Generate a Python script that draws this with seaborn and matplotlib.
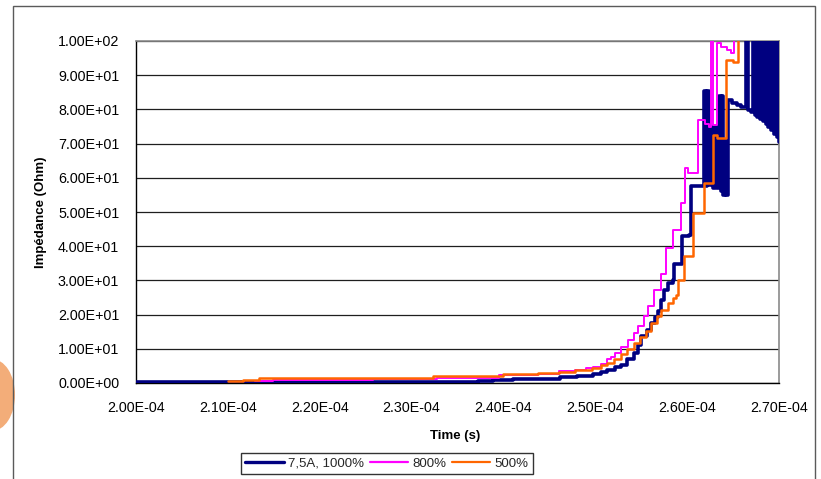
import matplotlib
matplotlib.use("Agg")
import matplotlib.pyplot as plt
from matplotlib.ticker import FuncFormatter, FixedLocator
from matplotlib.lines import Line2D
from matplotlib.patches import Rectangle, Ellipse
import pandas as pd
import seaborn as sns

# ---------------- data (time in microseconds, impedance in Ohm) ----------------
series_names = ["7,5A, 1000%", "800%", "500%"]
series_colors = ["#000080", "#FF00FF", "#FF6600"]

x_tick_values = [2.00e-4, 2.10e-4, 2.20e-4, 2.30e-4, 2.40e-4, 2.50e-4, 2.60e-4, 2.70e-4]
y_tick_values = [0, 10, 20, 30, 40, 50, 60, 70, 80, 90, 100]

navy_t_us = [200.0, 237.2, 238.9, 241.0, 246.2, 248.0, 249.8, 250.6, 251.3, 252.1,
             252.8, 253.5, 254.2, 254.6, 255.0, 255.6, 256.1, 256.5, 256.8, 257.2,
             257.5, 257.9, 258.45, 258.56, 259.4, 260.2, 260.41,
             261.83, 262.0, 262.15, 262.35, 262.6, 262.8, 263.0, 263.2, 263.45,
             263.65, 263.8, 263.95, 264.12, 264.28, 264.45, 264.9, 265.4, 265.9,
             266.41, 266.62, 267.0,
             267.2, 267.35, 267.5, 267.65, 267.8, 267.95, 268.1, 268.25, 268.4,
             268.55, 268.7, 268.85, 269.0, 269.15, 269.3, 269.45, 269.6, 269.75,
             269.9, 270.0]
navy_ohm = [0.2, 0.5, 1.0, 1.2, 1.7, 2.1, 2.7, 3.3, 3.8, 4.6,
            5.4, 7.0, 8.8, 11.0, 13.6, 15.5, 17.5, 19.3, 21.0, 24.3,
            27.3, 29.2, 30.2, 34.8, 42.9, 43.4, 57.5,
            85.5, 57.5, 85.5, 58.0, 75.0, 57.0, 75.0, 57.0, 84.0,
            56.0, 84.0, 55.0, 71.0, 55.0, 82.7, 82.0, 81.3, 80.7,
            101.0, 79.8, 79.2,
            101.0, 78.5, 101.0, 77.9, 101.0, 77.3, 101.0, 76.6, 101.0,
            75.8, 101.0, 75.0, 101.0, 74.0, 101.0, 72.9, 101.0, 71.8,
            101.0, 70.5]

magenta_t_us = [213.0, 214.9, 225.85, 232.8, 239.5, 243.8, 246.0, 247.8, 249.0, 249.8,
                250.6, 251.3, 251.7, 252.1, 252.78, 253.54, 254.2, 254.63, 255.3, 255.72,
                256.38, 257.14, 257.69, 258.45, 259.32, 259.76, 260.09, 261.18, 261.9,
                262.4, 262.6, 262.85, 263.2, 263.7, 264.3, 264.8, 265.1]
magenta_ohm = [0.5, 0.8, 1.2, 1.5, 2.3, 2.7, 3.4, 3.9, 4.4, 4.8,
               5.6, 7.0, 7.6, 8.8, 10.5, 12.7, 14.5, 16.6, 19.5, 22.4,
               27.3, 32.0, 39.5, 44.8, 52.6, 62.9, 61.4, 77.0, 75.8,
               74.8, 105.0, 75.5, 99.3, 98.2, 97.3, 96.6, 105.0]

orange_t_us = [210.0, 211.6, 213.4, 222.6, 232.3, 240.0, 243.8, 246.0, 247.8, 249.6,
               250.6, 251.3, 252.0, 252.8, 253.5, 254.2, 254.9, 255.5, 256.05, 256.7,
               257.1, 257.9, 258.45, 258.8, 259.0, 259.65, 260.63, 261.83, 262.81,
               263.3, 264.27, 265.0, 265.54]
orange_ohm = [0.6, 0.9, 1.4, 1.6, 2.1, 2.7, 2.9, 3.3, 3.8, 4.5,
              5.3, 5.9, 7.0, 8.5, 10.0, 11.7, 13.5, 15.1, 17.5, 19.5,
              21.4, 23.4, 24.9, 25.8, 30.2, 37.0, 49.7, 58.5, 72.5,
              71.5, 94.4, 93.9, 105.0]

series_t = [navy_t_us, magenta_t_us, orange_t_us]
series_v = [navy_ohm, magenta_ohm, orange_ohm]
series_lw = [2.6, 1.4, 1.8]

# ---------------- styling ----------------
sns.set_theme(style="white")
plt.rcParams["font.family"] = ["Liberation Sans", "DejaVu Sans"]

W, H = 821, 479
fig = plt.figure(figsize=(W / 100, H / 100), dpi=100)
fig.patch.set_facecolor("white")

# decorative slide elements: outer frame and orange blob at left
fig.add_artist(Ellipse((-8 / W, 1 - 395 / H), 46 / W, 72 / H, transform=fig.transFigure,
                       facecolor="#F2A46A", edgecolor="none", alpha=0.9, zorder=0))
fig.add_artist(Rectangle((13 / W, -0.05), (815 - 13) / W, 1.05 - 6 / H,
                         transform=fig.transFigure, fill=False,
                         edgecolor="#5a5a5a", linewidth=1.0, zorder=1))

L, R, T, B = 136, 779, 41, 383
ax = fig.add_axes([L / W, 1 - B / H, (R - L) / W, (B - T) / H])
ax.set_facecolor("white")

for name, color, ts, vs, lw in zip(series_names, series_colors, series_t, series_v, series_lw):
    df = pd.DataFrame({"Time (s)": [t * 1e-6 for t in ts], "Impedance": vs})
    sns.lineplot(data=df, x="Time (s)", y="Impedance", ax=ax, color=color,
                 linewidth=lw, estimator=None, sort=False, drawstyle="steps-post",
                 legend=False, zorder=3)

ax.set_xlim(2.0e-4, 2.7e-4)
ax.set_ylim(0, 100)
ax.xaxis.set_major_locator(FixedLocator(x_tick_values))
ax.yaxis.set_major_locator(FixedLocator(y_tick_values))
ax.xaxis.set_major_formatter(FuncFormatter(lambda v, p: f"{v:.2E}"))
ax.yaxis.set_major_formatter(FuncFormatter(lambda v, p: f"{v:.2E}"))

ax.yaxis.grid(True, color="#1e1e1e", linewidth=0.9, zorder=1)
ax.xaxis.grid(False)
ax.set_axisbelow(True)

for side in ["left", "bottom"]:
    ax.spines[side].set_color("black")
    ax.spines[side].set_linewidth(1.0)
for side in ["top", "right"]:
    ax.spines[side].set_color("#8a8a8a")
    ax.spines[side].set_linewidth(1.2)

ax.tick_params(axis="both", which="major", direction="out", length=4, width=0.9,
               color="black", labelsize=10.3, labelcolor="black")
ax.tick_params(axis="y", pad=8)
ax.tick_params(axis="x", pad=9)

ax.set_xlabel("Time (s)", fontsize=9.5, fontweight="bold", color="black")
ax.set_ylabel("Impédance (Ohm)", fontsize=9.5, fontweight="bold", color="black")
ax.xaxis.set_label_coords((455 - L) / (R - L), -(436 - B) / (B - T))
ax.xaxis.label.set_va("center")
ax.yaxis.set_label_coords(-(L - 41) / (R - L), 0.5)
ax.yaxis.label.set_va("center")

handles = [Line2D([0], [0], color=c, linewidth=lw) for c, lw in zip(series_colors, [2.4, 1.6, 1.6])]
leg = ax.legend(handles, series_names, ncol=3, loc="center",
                bbox_to_anchor=(387 / W, 1 - 463.5 / H), bbox_transform=fig.transFigure,
                frameon=True, fancybox=False, edgecolor="#333333", framealpha=1,
                fontsize=9.5, handlelength=2.9, handletextpad=0.35, columnspacing=0.4,
                borderpad=0.35, borderaxespad=0)
leg.get_frame().set_linewidth(1.0)

fig.savefig("out.png", dpi=100, facecolor="white")
